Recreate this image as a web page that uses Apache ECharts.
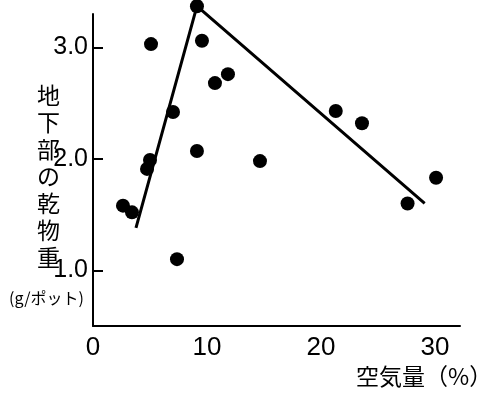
<!DOCTYPE html>
<html>
<head>
<meta charset="utf-8">
<script src="https://cdn.jsdelivr.net/npm/echarts@6/dist/echarts.min.js"></script>
<style>
html,body{margin:0;padding:0;background:#fff;}
#c{width:491px;height:394px;}
</style>
</head>
<body>
<div id="c"></div>
<script>
// Data
const airVolume = [2.63, 3.42, 5.09, 4.74, 5.0, 7.02, 9.12, 9.56, 9.12, 10.7, 11.84, 7.37, 14.65, 21.3, 23.6, 30.1, 27.6];
const dryWeight = [1.58, 1.52, 3.03, 1.91, 1.99, 2.42, 3.37, 3.06, 2.07, 2.68, 2.76, 1.10, 1.98, 2.43, 2.32, 1.83, 1.60];
const fitX = [3.77, 9.12, 29.1];
const fitY = [1.38, 3.37, 1.60];
const yTickValues = [1, 2, 3];
const yTickLabels = ['1.0', '2.0', '3.0'];
const xTickValues = [0, 10, 20, 30];
const xTickLabels = ['0', '10', '20', '30'];
const yNameChars = ['地', '下', '部', 'の', '乾', '物', '重'];
const yUnit = '(g/ポット)';
const xName = '空気量（%）';

const numFont = "'Liberation Sans Narrow', 'Liberation Sans', sans-serif";
const cjkFont = "'Noto Sans CJK JP', sans-serif";

const chart = echarts.init(document.getElementById('c'), null, {renderer: 'canvas'});
chart.setOption({
  backgroundColor: '#fff',
  animation: false,
  grid: {left: 93, right: 31, top: 14, bottom: 68, containLabel: false},
  xAxis: {
    type: 'value', min: 0, max: 32.2, interval: 10,
    axisLine: {show: true, lineStyle: {color: '#000', width: 2}},
    axisTick: {show: false},
    splitLine: {show: false},
    axisLabel: {
      customValues: xTickValues,
      formatter: v => xTickLabels[xTickValues.indexOf(v)],
      color: '#000', fontFamily: numFont, fontSize: 26, margin: 9
    }
  },
  yAxis: {
    type: 'value', min: 0.5, max: 3.3,
    axisLine: {show: true, lineStyle: {color: '#000', width: 2}},
    axisTick: {show: true, inside: true, length: 10, customValues: yTickValues, lineStyle: {color: '#000', width: 2}},
    splitLine: {show: false},
    axisLabel: {
      customValues: yTickValues,
      formatter: v => yTickLabels[yTickValues.indexOf(v)],
      color: '#000', fontFamily: numFont, fontSize: 25, margin: 5
    }
  },
  graphic: [
    {type: 'text', left: 37, top: 82, style: {text: yNameChars.join('\n'), font: '23px ' + cjkFont, fill: '#000', lineHeight: 27, align: 'center'}},
    {type: 'text', left: 9, top: 290, style: {text: yUnit, font: '16px ' + cjkFont, fill: '#000'}},
    {type: 'text', left: 356, top: 365, style: {text: xName, font: '23px ' + cjkFont, fill: '#000'}}
  ],
  series: [
    {
      type: 'line',
      data: fitX.map((x, i) => [x, fitY[i]]),
      symbol: 'none', clip: false,
      lineStyle: {color: '#000', width: 3},
      z: 2
    },
    {
      type: 'scatter',
      data: airVolume.map((x, i) => [x, dryWeight[i]]),
      symbol: 'circle', symbolSize: 14, clip: false,
      itemStyle: {color: '#000', opacity: 1},
      z: 3
    }
  ]
});
</script>
</body>
</html>
